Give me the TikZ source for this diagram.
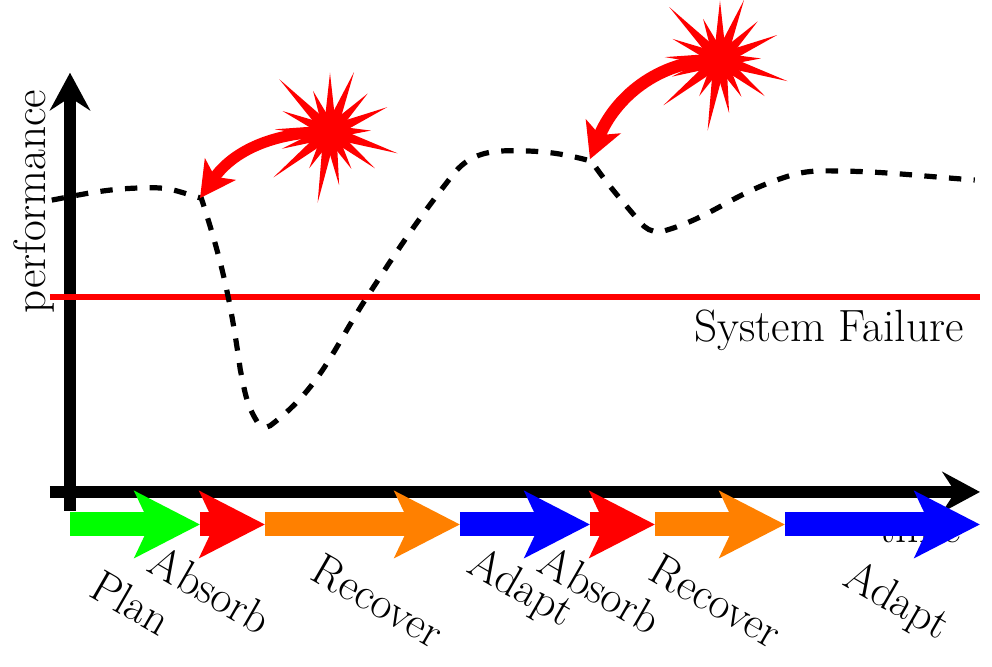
\documentclass[tikz,border=0pt]{standalone}
\usepackage{xcolor}
\usetikzlibrary{arrows.meta, calc}
\tikzset{
  axisline/.style={black, line width=0.185cm, -{Stealth[length=0.58cm, width=0.62cm, inset=0.2cm]}},
  phasearrow/.style={line width=0.37cm, -{Stealth[length=1cm, width=1.01cm, inset=0.23cm]}},
  hitarrow/.style={red, line width=#1, -{Stealth[length=0.54cm, width=0.57cm, inset=0.14cm]}},
  biglabel/.style={font=\fontsize{19.8}{24}\selectfont},
  phaselabel/.style={biglabel, rotate=-30},
  burst/.pic={
    \fill[red] (0,0) circle (0.31);
    \foreach \x/\y in {0/.91, .37/.92, .58/.59, .88/.38, .63/.02, 1.04/-.33, .69/-.56, .33/-.57, .14/-.82, -.19/-1.09, -.32/-.56, -.87/-.70, -.74/-.26, -.85/.04, -.73/.32, -.78/.81, -.26/.63} {
      \fill[red] (\x,\y) -- ($(0,0)!0.1cm!90:(\x,\y)$) -- ($(0,0)!0.1cm!-90:(\x,\y)$) -- cycle;
    }
  }
}

\begin{document}
\begin{tikzpicture}
  \useasboundingbox (-1.077,-2.692) rectangle (14.185,7.569);

  % Axes
  \node (timelabel) [biglabel] at (13.08,-0.55) {time};
  \node (perflabel) [biglabel, rotate=90] at (-0.55,4.47) {performance};
  \coordinate (xstart) at (-0.31,0);
  \coordinate (xend) at (14,0);
  \coordinate (ystart) at (0,-0.29);
  \coordinate (yend) at (0,6.45);
  \draw[axisline] (ystart) -- (yend);
  \draw[axisline] (xstart) -- (xend);

  % Failure threshold
  \coordinate (failstart) at (-0.31,3);
  \coordinate (failend) at (14,3);
  \draw[red, line width=0.08cm] (failstart) -- (failend);
  \node (faillabel) [biglabel, anchor=east] at (13.87,2.48) {System Failure};

  % Performance curve
  \draw[black, line width=0.08cm, dash pattern=on 0.19cm off 0.19cm]
    (-0.28,4.49) to[out=11, in=180] (1.28,4.68) to[out=0, in=165] (2.02,4.52)
    to[out=-72, in=98] (2.62,1.88) to[out=-78, in=122] (2.88,1.08)
    to[out=-58, in=217] (3.08,1.02)
    to[out=37, in=237] (4.57,3) to[out=57, in=232] (5.89,4.88)
    to[out=52, in=180] (6.78,5.25) to[out=0, in=165] (8.02,5.09)
    to[out=-55, in=130] (8.77,4.15) to[out=-50, in=180] (9.08,4.0)
    to[out=15, in=200] (10.82,4.78)
    to[out=20, in=180] (11.6,4.94) to[out=0, in=176] (13.92,4.8);

  % Disturbances
  \coordinate (burstA) at (4,5.54);
  \coordinate (burstB) at (10,6.65);
  \coordinate (hitA) at (2.0,4.52);
  \coordinate (hitB) at (8.0,5.12);
  \pic at (burstA) {burst};
  \pic at (burstB) {burst};
  \draw[hitarrow=0.17cm] (burstA) to[out=180, in=55] (hitA);
  \draw[hitarrow=0.19cm] (burstB) to[out=180, in=68] (hitB);

  % Phases
  \foreach \i/\x in {0/0, 1/2, 2/3, 3/6, 4/8, 5/9, 6/11, 7/14} {
    \coordinate (p\i) at (\x,-0.5);
  }
  \foreach \a/\b/\col in {0/1/green, 1/2/red, 2/3/orange, 3/4/blue, 4/5/red, 5/6/orange, 6/7/blue} {
    \draw[phasearrow, \col] (p\a) -- (p\b);
  }
  \foreach \x/\y/\name in {0.94/-1.70/Plan, 2.16/-1.50/Absorb, 4.74/-1.67/Recover, 6.93/-1.50/Adapt, 8.16/-1.50/Absorb, 9.94/-1.67/Recover, 12.71/-1.70/Adapt} {
    \node[phaselabel] at (\x,\y) {\name};
  }
\end{tikzpicture}
\end{document}
